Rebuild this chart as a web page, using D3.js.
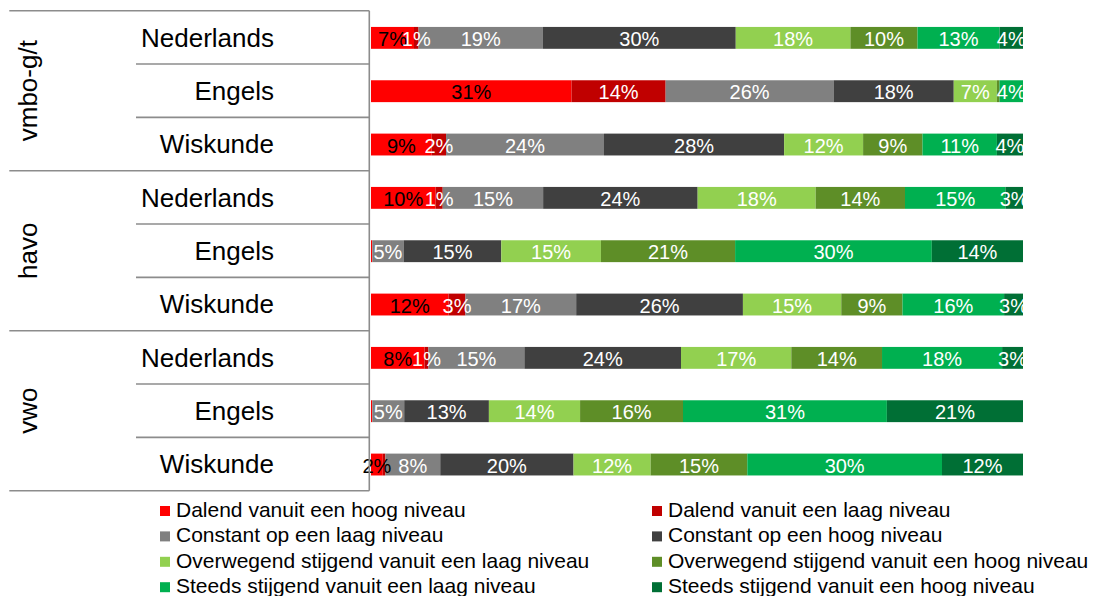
<!DOCTYPE html>
<html>
<head>
<meta charset="utf-8">
<script src="https://cdn.jsdelivr.net/npm/d3@7"></script>
<style>
    body { margin: 0; background: #fff; }
    text { font-family: "Liberation Sans", Arial, sans-serif; }
</style>
</head>
<body>
<div id="chart"></div>
<script>
// categories
var levels = ["vmbo-g/t", "havo", "vwo"];
var subjects = ["Nederlands", "Engels", "Wiskunde"];
var seriesNames = [
    "Dalend vanuit een hoog niveau",
    "Dalend vanuit een laag niveau",
    "Constant op een laag niveau",
    "Constant op een hoog niveau",
    "Overwegend stijgend vanuit een laag niveau",
    "Overwegend stijgend vanuit een hoog niveau",
    "Steeds stijgend vanuit een laag niveau",
    "Steeds stijgend vanuit een hoog niveau"
];

// percentages per series, rows: vmbo N/E/W, havo N/E/W, vwo N/E/W
var dalendHoog   = [6.6, 30.7, 9.3, 9.9, 0.2, 11.9, 8.2, 0.2, 1.8];
var dalendLaag   = [0.7, 14.4, 2.2, 1.1, 0, 2.6, 0.6, 0, 0.4];
var constantLaag = [19.1, 25.7, 24.2, 15.4, 4.8, 17.0, 14.7, 4.9, 8.4];
var constantHoog = [29.6, 18.4, 27.6, 23.7, 15.0, 25.6, 24.0, 13.0, 20.4];
var overwLaag    = [17.6, 6.6, 12.1, 18.1, 15.3, 15.1, 16.9, 14.0, 11.8];
var overwHoog    = [10.3, 0.4, 9.1, 13.7, 20.6, 9.4, 13.9, 15.8, 14.8];
var steedsLaag   = [12.6, 3.6, 11.4, 15.4, 30.2, 15.6, 18.4, 31.3, 29.8];
var steedsHoog   = [3.6, 0, 4.0, 2.7, 14.0, 2.9, 3.2, 20.9, 12.4];

var colors = ["#ff0000", "#c00000", "#808080", "#404040", "#92d050", "#5e8e27", "#00b050", "#006f35"];
var labelColors = ["#000", "#fff", "#fff", "#fff", "#fff", "#fff", "#fff", "#fff"];

var seriesValues = [dalendHoog, dalendLaag, constantLaag, constantHoog, overwLaag, overwHoog, steedsLaag, steedsHoog];

// build table
var rows = [];
levels.forEach(function(l) {
    subjects.forEach(function(s) { rows.push({ level: l, subject: s, key: l + "|" + s }); });
});
rows.forEach(function(r, i) {
    seriesNames.forEach(function(n, j) { r[n] = seriesValues[j][i]; });
});

var width = 1104, height = 596;
var svg = d3.select("#chart").append("svg")
    .attr("width", width)
    .attr("height", height);

var plotLeft = 371, plotRight = 1023, plotTop = 10.7, plotBottom = 490.7;
var axisX = 369.3;

var x = d3.scaleLinear().domain([0, 1]).range([plotLeft, plotRight]);
var y = d3.scaleBand().domain(rows.map(function(d) { return d.key; }))
    .range([plotTop, plotBottom]).padding(0);

var barH = y.bandwidth() * 0.41;

var stack = d3.stack().keys(seriesNames).offset(d3.stackOffsetExpand);
var stacked = stack(rows);

var layers = svg.selectAll(".layer")
    .data(stacked)
  .enter().append("g")
    .attr("class", "layer")
    .attr("fill", function(d, i) { return colors[i]; });

layers.selectAll("rect")
    .data(function(d) { return d; })
  .enter().append("rect")
    .attr("x", function(d) { return x(d[0]); })
    .attr("width", function(d) { return Math.max(0, x(d[1]) - x(d[0])); })
    .attr("y", function(d) { return y(d.data.key) + (y.bandwidth() - barH) / 2 + 0.5; })
    .attr("height", barH);

// value labels
stacked.forEach(function(layer, i) {
    svg.append("g")
        .selectAll("text")
        .data(layer.filter(function(d) { return Math.round(d.data[layer.key]) > 0; }))
      .enter().append("text")
        .attr("x", function(d) { return (x(d[0]) + x(d[1])) / 2; })
        .attr("y", function(d) { return y(d.data.key) + y.bandwidth() / 2 + 0.5; })
        .attr("dy", "0.4em")
        .attr("text-anchor", "middle")
        .attr("font-size", 20)
        .attr("fill", labelColors[i])
        .text(function(d) { return Math.round(d.data[layer.key]) + "%"; });
});

// category axis (two levels)
var lineColor = "#8c8c8c";
var ax = svg.append("g").attr("class", "y axis");

ax.append("line")
    .attr("x1", axisX).attr("x2", axisX)
    .attr("y1", plotTop).attr("y2", plotBottom)
    .attr("stroke", lineColor).attr("stroke-width", 1.6);

var bounds = rows.map(function(d) { return y(d.key); }).concat([plotBottom]);
bounds.forEach(function(b, i) {
    var isGroup = (i % subjects.length === 0);
    ax.append("line")
        .attr("x1", isGroup ? 9.3 : 136).attr("x2", axisX)
        .attr("y1", b).attr("y2", b)
        .attr("stroke", lineColor).attr("stroke-width", 1.6);
});

ax.selectAll(".subj")
    .data(rows)
  .enter().append("text")
    .attr("class", "subj")
    .attr("x", 274)
    .attr("y", function(d) { return y(d.key) + y.bandwidth() / 2; })
    .attr("dy", "0.36em")
    .attr("text-anchor", "end")
    .attr("font-size", 26)
    .attr("fill", "#000")
    .text(function(d) { return d.subject; });

ax.selectAll(".lvl")
    .data(levels)
  .enter().append("text")
    .attr("class", "lvl")
    .attr("transform", function(l) {
        var first = y(l + "|" + subjects[0]);
        var last = y(l + "|" + subjects[subjects.length - 1]) + y.bandwidth();
        return "translate(37," + ((first + last) / 2) + ") rotate(-90)";
    })
    .attr("text-anchor", "middle")
    .attr("font-size", 26)
    .attr("fill", "#000")
    .text(function(d) { return d; });

// legend
var legend = svg.append("g").attr("class", "legend");
var legCols = [160, 652], legTop = 516.7, legStep = 25.4;

var item = legend.selectAll(".item")
    .data(seriesNames)
  .enter().append("g")
    .attr("class", "item")
    .attr("transform", function(d, i) {
        return "translate(" + legCols[i % 2] + "," + (legTop + Math.floor(i / 2) * legStep) + ")";
    });

item.append("rect")
    .attr("x", 0).attr("y", -10.7)
    .attr("width", 10).attr("height", 10)
    .attr("fill", function(d, i) { return colors[i]; });

item.append("text")
    .attr("x", 16)
    .attr("y", 0)
    .attr("font-size", 21)
    .attr("fill", "#000")
    .text(function(d) { return d; });
</script>
</body>
</html>
